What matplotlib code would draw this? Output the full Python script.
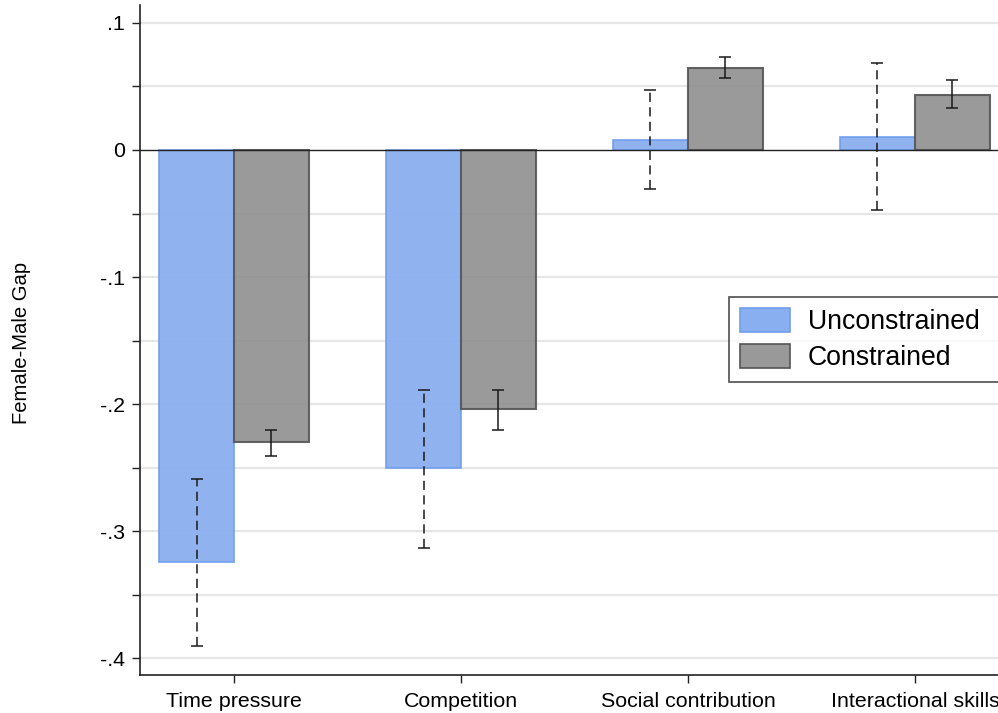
import matplotlib
matplotlib.use("Agg")
import matplotlib.pyplot as plt
import numpy as np
from matplotlib.patches import Patch

plt.rcParams['font.family'] = ['Liberation Sans', 'DejaVu Sans']

categories = ["Time pressure", "Competition", "Social contribution", "Interactional skills"]
unconstrained = [-0.324, -0.2505, 0.0075, 0.0101]
unconstrained_lo = [-0.390, -0.313, -0.031, -0.047]
unconstrained_hi = [-0.2585, -0.189, 0.0468, 0.0682]
constrained = [-0.2298, -0.2041, 0.0643, 0.0434]
constrained_lo = [-0.2411, -0.2201, 0.0565, 0.0326]
constrained_hi = [-0.2199, -0.189, 0.0733, 0.0549]
series_names = ["Unconstrained", "Constrained"]

W, H = 998, 713
fig = plt.figure(figsize=(W / 100, H / 100), dpi=100)
ax = fig.add_axes([140 / W, 1 - 675 / H, 868 / W, 670 / H])

x = np.arange(len(categories))
bw = 0.33
blue_face, blue_edge = '#8aaff0', '#6f9cee'
gray_face, gray_edge = '#8f8f8f', '#555555'

# grid at every 0.05
for g in np.arange(-0.4, 0.1001, 0.05):
    if abs(g) > 1e-9:
        ax.axhline(g, color='#e6e6e6', lw=1.6, zorder=0)

ax.bar(x - bw / 2, unconstrained, width=bw, color=blue_face, edgecolor=blue_edge,
       linewidth=1.2, alpha=0.95, zorder=2)
ax.bar(x + bw / 2, constrained, width=bw, color=gray_face, edgecolor=gray_edge,
       linewidth=1.5, alpha=0.9, zorder=2)
ax.axhline(0, color='#222222', lw=1.0, zorder=3)

u = np.array(unconstrained)
c = np.array(constrained)
uerr = [u - np.array(unconstrained_lo), np.array(unconstrained_hi) - u]
cerr = [c - np.array(constrained_lo), np.array(constrained_hi) - c]

eb1 = ax.errorbar(x - bw / 2, u, yerr=uerr, fmt='none', ecolor='#1a1a1a',
                  elinewidth=1.1, capsize=4.5, capthick=1.1, zorder=4)
eb1[2][0].set_linestyle((0, (6, 3.5)))
ax.errorbar(x + bw / 2, c, yerr=cerr, fmt='none', ecolor='#1a1a1a',
            elinewidth=1.1, capsize=4.5, capthick=1.1, zorder=4)

ax.set_xlim(-0.414, 3.41)
ax.set_ylim(-0.413, 0.114)

ax.set_xticks(x)
ax.set_xticklabels(categories, fontsize=15.4)
ax.set_yticks([-0.4, -0.3, -0.2, -0.1, 0, 0.1])
ax.set_yticklabels(['-.4', '-.3', '-.2', '-.1', '0', '.1'], fontsize=15.4)
ax.set_yticks(np.arange(-0.35, 0.1, 0.1), minor=True)
ax.tick_params(axis='both', which='both', direction='out', length=6, width=1.0,
               color='#222222', pad=5)
ax.tick_params(axis='x', pad=6)

for s in ['top', 'right']:
    ax.spines[s].set_visible(False)
for s in ['left', 'bottom']:
    ax.spines[s].set_linewidth(1.2)
    ax.spines[s].set_color('#222222')

fig.text(22 / W, 1 - 343 / H, "Female-Male Gap", rotation=90, fontsize=14.6,
         ha='center', va='center')

handles = [Patch(facecolor=blue_face, edgecolor=blue_edge, linewidth=1.2),
           Patch(facecolor='#999999', edgecolor=gray_edge, linewidth=1.2)]
leg = fig.legend(handles, series_names, loc='upper left',
                 bbox_to_anchor=(729 / W, 1 - 382 / H, 300 / W, 85 / H),
                 mode='expand', fontsize=19.2,
                 frameon=True, fancybox=False, edgecolor='#222222',
                 handlelength=1.9, handleheight=1.0, handletextpad=0.65,
                 labelspacing=0.35, borderpad=0.4, borderaxespad=0)
leg.get_frame().set_linewidth(1.2)

fig.savefig("out.png", dpi=100)
